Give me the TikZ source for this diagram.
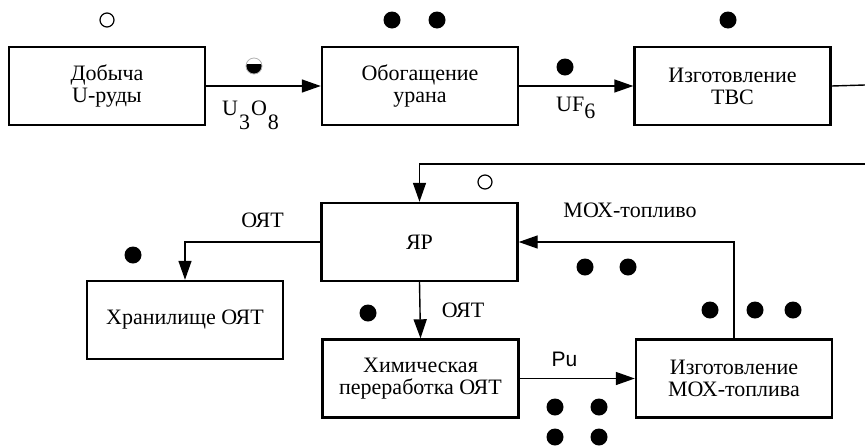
\documentclass[tikz,border=0pt]{standalone}
\usepackage{fontspec}
\setmainfont{Liberation Serif}
\newfontfamily\pusans{Liberation Sans}
\usetikzlibrary{arrows.meta}
\begin{document}
\begin{tikzpicture}[x=1pt,y=-1pt,
  box/.style={draw, line width=2.4pt, minimum width=196pt, minimum height=78pt, align=center, inner sep=0pt, font=\fontsize{22}{22}\selectfont},
  lbl/.style={inner sep=0pt, font=\fontsize{22}{22}\selectfont},
  conn/.style={line width=1.4pt, -{Triangle[length=19pt,width=13pt]}},
  plain/.style={line width=1.4pt},
  dotf/.style={fill=black},
  doto/.style={draw=black, line width=1.2pt, fill=white}]
\useasboundingbox (0,0) rectangle (865,445);

% boxes
\node[box] (b1) at (107,86) {Добыча\\U-руды};
\node[box] (b2) at (420,86) {Обогащение\\урана};
\node[box] (b3) at (732.5,86) {Изготовление\\ТВС};
\node[box] (r) at (419.5,242) {ЯР};
\node[box] (s) at (185,320) {Хранилище ОЯТ};
\node[box] (c) at (420.5,378.5) {Химическая\\переработка ОЯТ};
\node[box] (m) at (734,378.5) {Изготовление\\МОХ-топлива};

\coordinate (e1) at (865,85);
\coordinate (e2) at (865,164);

% connectors
\draw[conn] (b1.east) -- (b2.west);
\draw[conn] (b2.east) -- (b3.west);
\draw[plain] (b3.east) -- (e1);
\draw[conn] (e2) -| (r.north);
\draw[conn] (r.west) -| (s.north);
\draw[conn] (r.south) -- (c.north);
\draw[conn] (c.east) -- (m.west);
\draw[conn] (m.north) |- (r.east);

% labels
\node[lbl, anchor=base west] (u3o8) at (222,115) {U\kern1pt\raisebox{-14pt}{3}\kern1pt O\kern1pt\raisebox{-14pt}{8}};
\node[lbl, anchor=base west] (uf6) at (556,111) {UF\raisebox{-7pt}{6}};
\node[lbl] (oyt1) at (262.5,220.5) {ОЯТ};
\node[lbl] (oyt2) at (463,310) {ОЯТ};
\node[lbl] (mox) at (630,210) {МОХ-топливо};
\node[lbl, font=\pusans\fontsize{21}{22}\selectfont] (pu) at (564.5,359.5) {Pu};

% open circles
\draw[doto] (107,20) circle[radius=7pt];
\draw[doto] (485,182) circle[radius=7pt];

% half-filled circle
\begin{scope}
  \clip (254,66) circle[radius=8pt];
  \fill[black] (244,64) rectangle (264,76);
\end{scope}
\draw[gray!60, line width=0.8pt] (254,66) circle[radius=8pt];

% filled dots
\foreach \p in {(392,20),(437,20),(728,20),(565,67),(133,255),(368,313),
                (585,267),(628,267),(710,310),(755,310),(793,310),
                (555,407),(599,407),(555,437),(599,437)}
  \fill[dotf] \p circle[radius=8.5pt];
\end{tikzpicture}
\end{document}
